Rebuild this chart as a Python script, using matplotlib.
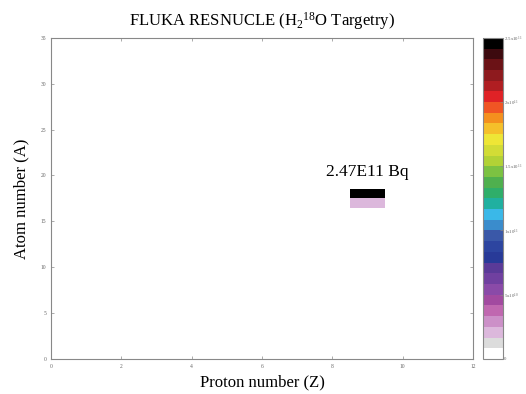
import numpy as np
import matplotlib
matplotlib.use("Agg")
import matplotlib.pyplot as plt
from matplotlib.colors import ListedColormap, BoundaryNorm

plt.rcParams["font.family"] = ["Liberation Serif", "DejaVu Serif"]
plt.rcParams["mathtext.fontset"] = "custom"
plt.rcParams["mathtext.rm"] = "Liberation Serif"
plt.rcParams["mathtext.default"] = "regular"

# residual nuclei (Z, A) and their activity in Bq
z_vals = [9, 9]
a_vals = [18, 17]
activity = [2.47e11, 2.0e10]
label_text = "2.47E11 Bq"

z_max = 12
a_max = 35
cbar_ticks = [0, 5e10, 1e11, 1.5e11, 2e11, 2.5e11]
cbar_labels = ["0", r"5x10$^{10}$", r"1x10$^{11}$", r"1.5x10$^{11}$",
               r"2x10$^{11}$", r"2.5x10$^{11}$"]

# 30 level palette, bottom to top
palette = [
    "#ffffff", "#dcdcdc", "#dcb8dc", "#cc90c8", "#c068b0", "#a24aa0",
    "#8a4aa8", "#7040a0", "#5a3a98", "#283a98", "#2d45a0", "#3a58a8",
    "#3a8ccc", "#3ab8e8", "#20b0a0", "#2fae6a", "#4fb04e", "#7cc242",
    "#b2d236", "#d2dc36", "#eee636", "#f5c02a", "#f4901e", "#f05524",
    "#e02226", "#b01e22", "#8e1a1e", "#6b1216", "#3d0a0f", "#000000",
]
cmap = ListedColormap(palette)
levels = np.linspace(0, 2.5e11, len(palette) + 1)
norm = BoundaryNorm(levels, cmap.N)

grid = np.full((a_max + 1, z_max + 1), np.nan)
for z, a, v in zip(z_vals, a_vals, activity):
    grid[a, z] = v
grid = np.ma.masked_invalid(grid)

fig = plt.figure(figsize=(5.26, 3.94), dpi=100)
ax = fig.add_axes([0.097, 0.089, 0.802, 0.815])
cax = fig.add_axes([0.918, 0.089, 0.038, 0.815])

z_edges = np.arange(z_max + 2) - 0.5
a_edges = np.arange(a_max + 2) - 0.5
mesh = ax.pcolormesh(z_edges, a_edges, grid, cmap=cmap, norm=norm)

ax.set_xlim(0, z_max)
ax.set_ylim(0, a_max)
ax.set_xticks(range(0, z_max + 1, 2))
ax.set_yticks(range(0, a_max + 1, 5))
ax.tick_params(direction="in", top=True, right=True, labelsize=4,
               length=2, width=0.5, colors="#888888", labelcolor="#666666")
for s in ax.spines.values():
    s.set_color("#888888")
    s.set_linewidth(0.8)

top_idx = int(np.argmax(activity))
ax.text(z_vals[top_idx], a_vals[top_idx] + 2.4, label_text,
        ha="center", va="center", fontsize=12.5)

ax.set_xlabel("Proton number (Z)", fontsize=12, labelpad=4)
ax.set_ylabel("Atom number (A)", fontsize=12, labelpad=8)
ax.set_title(r"FLUKA RESNUCLE (H$_2$$^{18}$O Targetry)", fontsize=12, pad=9)

cb = fig.colorbar(mesh, cax=cax, ticks=cbar_ticks, drawedges=False)
cb.ax.minorticks_off()
cb.ax.set_yticklabels(cbar_labels)
cb.ax.tick_params(labelsize=3.5, length=2, width=0.5, direction="in", pad=1,
                  colors="#888888", labelcolor="#666666")
cb.outline.set_edgecolor("#888888")
cb.outline.set_linewidth(0.8)

fig.savefig("out.png", dpi=100)
